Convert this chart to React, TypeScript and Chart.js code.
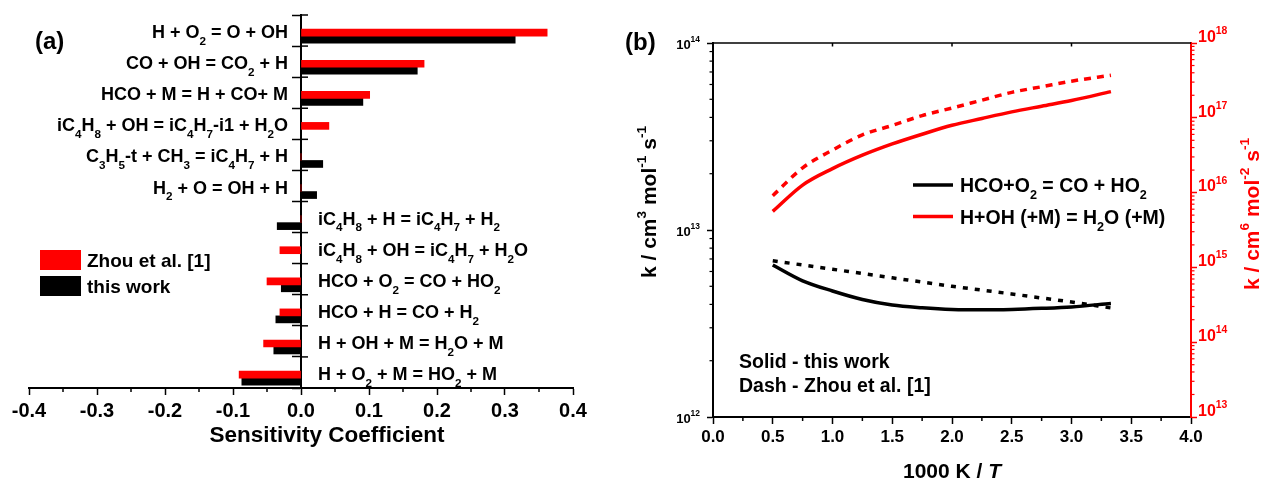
import React, { useEffect, useRef } from 'react';
import { Chart, registerables } from 'chart.js';

Chart.register(...registerables);

const FONT = '"Liberation Sans", Arial, Helvetica, sans-serif';
const RED = '#ff0000';
const BLACK = '#000000';

// ---------- Panel (a): sensitivity coefficients ----------
const categories = [
  'H + O_{2} = O + OH',
  'CO + OH = CO_{2} + H',
  'HCO + M = H + CO+ M',
  'iC_{4}H_{8} + OH = iC_{4}H_{7}-i1 + H_{2}O',
  'C_{3}H_{5}-t + CH_{3} = iC_{4}H_{7} + H',
  'H_{2} + O = OH + H',
  'iC_{4}H_{8} + H = iC_{4}H_{7} + H_{2}',
  'iC_{4}H_{8} + OH = iC_{4}H_{7} + H_{2}O',
  'HCO + O_{2} = CO + HO_{2}',
  'HCO + H = CO + H_{2}',
  'H + OH + M = H_{2}O + M',
  'H + O_{2} + M = HO_{2} + M',
];
const zhouValues = [0.362, 0.181, 0.101, 0.041, 0, 0, 0, -0.031, -0.05, -0.031, -0.055, -0.091];
const thisWorkValues = [0.315, 0.171, 0.091, 0, 0.032, 0.023, -0.035, 0, -0.029, -0.037, -0.04, -0.087];
const seriesNamesA = ['Zhou et al. [1]', 'this work'];
const xTitleA = 'Sensitivity Coefficient';

// ---------- Panel (b): rate constants ----------
const invT = [0.5, 0.75, 1.0, 1.25, 1.5, 1.75, 2.0, 2.25, 2.5, 2.75, 3.0, 3.33];
const hcoThisWork = [6.5e12, 5.35e12, 4.72e12, 4.25e12, 3.97e12, 3.84e12, 3.76e12, 3.74e12, 3.76e12, 3.81e12, 3.88e12, 4.05e12];
const hcoZhou = [6.85e12, 6.5e12, 6.17e12, 5.85e12, 5.55e12, 5.27e12, 5.0e12, 4.77e12, 4.55e12, 4.33e12, 4.12e12, 3.83e12];
const hohThisWork = [5.6e15, 1.26e16, 2.09e16, 3.16e16, 4.47e16, 6.03e16, 7.94e16, 9.8e16, 1.2e17, 1.43e17, 1.7e17, 2.24e17];
const hohZhou = [9.1e15, 2.14e16, 3.7e16, 5.9e16, 7.9e16, 1.07e17, 1.35e17, 1.72e17, 2.19e17, 2.6e17, 3.09e17, 3.7e17];
const legendB = ['HCO+O_{2} = CO + HO_{2}', 'H+OH (+M) = H_{2}O (+M)'];
const notesB = ['Solid - this work', 'Dash - Zhou et al. [1]'];
const xTitleB = '1000 K / ~{T}';
const yTitleLeft = 'k / cm^{3} mol^{-1} s^{-1}';
const yTitleRight = 'k / cm^{6} mol^{-2} s^{-1}';

// ---------- rich text helpers ----------
type Seg = { t: string; k: 'n' | 'sub' | 'sup' | 'it' };
function parseRich(s: string): Seg[] {
  const segs: Seg[] = [];
  let buf = '';
  let i = 0;
  while (i < s.length) {
    const c = s[i];
    if ((c === '_' || c === '^' || c === '~') && s[i + 1] === '{') {
      if (buf) { segs.push({ t: buf, k: 'n' }); buf = ''; }
      const end = s.indexOf('}', i + 2);
      segs.push({ t: s.slice(i + 2, end), k: c === '_' ? 'sub' : c === '^' ? 'sup' : 'it' });
      i = end + 1;
    } else { buf += c; i++; }
  }
  if (buf) segs.push({ t: buf, k: 'n' });
  return segs;
}
function drawRich(ctx: CanvasRenderingContext2D, s: string, x: number, baseline: number, size: number, color: string, align: 'left' | 'right' | 'center') {
  const segs = parseRich(s);
  const fontFor = (k: string) => (k === 'sub' || k === 'sup') ? `bold ${size * 0.65}px ${FONT}` : k === 'it' ? `italic bold ${size}px ${FONT}` : `bold ${size}px ${FONT}`;
  let total = 0;
  const widths = segs.map(sg => { ctx.font = fontFor(sg.k); const w = ctx.measureText(sg.t).width; total += w; return w; });
  let cx = align === 'right' ? x - total : align === 'center' ? x - total / 2 : x;
  ctx.fillStyle = color;
  ctx.textAlign = 'left';
  ctx.textBaseline = 'alphabetic';
  segs.forEach((sg, i) => {
    ctx.font = fontFor(sg.k);
    const dy = sg.k === 'sub' ? size * 0.38 : sg.k === 'sup' ? -size * 0.48 : 0;
    ctx.fillText(sg.t, cx, baseline + dy);
    cx += widths[i];
  });
}
function drawRichRot(ctx: CanvasRenderingContext2D, s: string, bx: number, cy: number, size: number, color: string) {
  ctx.save();
  ctx.translate(bx, cy);
  ctx.rotate(-Math.PI / 2);
  drawRich(ctx, s, 0, 0, size, color, 'center');
  ctx.restore();
}
function seg(ctx: CanvasRenderingContext2D, x1: number, y1: number, x2: number, y2: number) {
  ctx.beginPath(); ctx.moveTo(x1, y1); ctx.lineTo(x2, y2); ctx.stroke();
}
const fmt1 = (v: any) => (Math.abs(Number(v)) < 1e-9 ? '0.0' : Number(v).toFixed(1));

export default function App() {
  const refA = useRef<HTMLCanvasElement>(null);
  const refB = useRef<HTMLCanvasElement>(null);

  useEffect(() => {
    Chart.defaults.font.family = FONT;
    const nCat = categories.length;
    const catShift = 0.68;

    const pluginA = {
      id: 'extrasA',
      afterDraw(chart: any) {
        const ctx: CanvasRenderingContext2D = chart.ctx;
        const xs = chart.scales.x, ys = chart.scales.y, ca = chart.chartArea;
        const x0 = xs.getPixelForValue(0);
        ctx.save();
        ctx.strokeStyle = BLACK; ctx.lineWidth = 1.5;
        ys.ticks.forEach((t: any) => { const py = ys.getPixelForValue(t.value); seg(ctx, x0, py, x0 + 7, py); });
        for (let k = 0; k < 8; k++) { const px = xs.getPixelForValue(-0.35 + 0.1 * k); seg(ctx, px, ca.bottom, px, ca.bottom + 4); }
        categories.forEach((lab, i) => {
          const cy = ys.getPixelForValue(i) - 4.5;
          const positive = zhouValues[i] + thisWorkValues[i] > 0;
          drawRich(ctx, lab, positive ? x0 - 13 : x0 + 17, cy + 0.36 * 18, 18, BLACK, positive ? 'right' : 'left');
        });
        drawRich(ctx, xTitleA, (ca.left + ca.right) / 2 + 26, 442, 22.5, BLACK, 'center');
        // legend
        const colors = [RED, BLACK];
        seriesNamesA.forEach((name, i) => {
          const top = 250 + i * 26;
          ctx.fillStyle = colors[i];
          ctx.fillRect(40, top, 41, 20);
          drawRich(ctx, name, 87, top + 10 + 0.36 * 19, 19, BLACK, 'left');
        });
        drawRich(ctx, '(a)', 35, 49, 24, BLACK, 'left');
        ctx.restore();
      },
    };

    const chartA = new Chart(refA.current!, {
      type: 'bar',
      data: {
        datasets: [
          { label: seriesNamesA[0], data: zhouValues.map((v, i) => ({ x: v, y: i })), backgroundColor: RED, barThickness: 7 } as any,
          { label: seriesNamesA[1], data: thisWorkValues.map((v, i) => ({ x: v, y: i })), backgroundColor: BLACK, barThickness: 7 } as any,
        ],
      },
      options: {
        indexAxis: 'y',
        responsive: false,
        animation: false,
        layout: { padding: { left: 29, right: 47, top: 15, bottom: 0 } },
        plugins: { legend: { display: false }, tooltip: { enabled: false } },
        scales: {
          x: {
            type: 'linear', min: -0.4, max: 0.4,
            ticks: { stepSize: 0.1, callback: fmt1, color: BLACK, font: { size: 20, weight: 'bold' }, padding: 4, maxRotation: 0, autoSkip: false },
            grid: { drawOnChartArea: false, drawTicks: true, tickLength: 7, tickWidth: 1.5, tickColor: BLACK },
            border: { display: true, width: 2, color: BLACK },
            afterFit: (s: any) => { s.height = 91; },
          },
          y: {
            type: 'linear', position: { x: 0 } as any, reverse: true, offset: false,
            min: -catShift, max: nCat - catShift,
            afterBuildTicks: (s: any) => { s.ticks = Array.from({ length: nCat + 1 }, (_, k) => ({ value: k - catShift })); },
            ticks: { display: false },
            grid: { offset: false, drawOnChartArea: false, drawTicks: true, tickLength: 8, tickWidth: 1.5, tickColor: BLACK },
            border: { display: true, width: 2, color: BLACK },
            afterFit: (s: any) => { s.width = 0; },
          },
        },
      } as any,
      plugins: [pluginA],
    });

    const decades = (lo: number, hi: number) => {
      const a: number[] = [];
      for (let e = Math.round(Math.log10(lo)); e <= Math.round(Math.log10(hi)); e++) a.push(Math.pow(10, e));
      return a;
    };
    const minorLog = (ctx: CanvasRenderingContext2D, scale: any, x: number, dir: number, color: string) => {
      ctx.strokeStyle = color; ctx.lineWidth = 1.2;
      const lo = Math.round(Math.log10(scale.min)), hi = Math.round(Math.log10(scale.max));
      for (let e = lo; e < hi; e++) for (let m = 2; m <= 9; m++) {
        const py = scale.getPixelForValue(m * Math.pow(10, e));
        seg(ctx, x, py, x + dir * 3.5, py);
      }
    };

    const pluginB = {
      id: 'extrasB',
      afterDraw(chart: any) {
        const ctx: CanvasRenderingContext2D = chart.ctx;
        const xs = chart.scales.x, yl = chart.scales.y, yr = chart.scales.y1, ca = chart.chartArea;
        ctx.save();
        ctx.strokeStyle = BLACK; ctx.lineWidth = 1.5;
        seg(ctx, ca.left, ca.top, ca.right, ca.top);
        [1, 2, 3].forEach(v => { const px = xs.getPixelForValue(v); seg(ctx, px, ca.top, px, ca.top + 3.5); });
        for (let k = 0; k < 8; k++) { const px = xs.getPixelForValue(0.25 + 0.5 * k); seg(ctx, px, ca.bottom, px, ca.bottom + 4); }
        minorLog(ctx, yl, ca.left, -1, BLACK);
        minorLog(ctx, yr, ca.right, 1, RED);
        decades(yl.min, yl.max).forEach(v => {
          const py = yl.getPixelForValue(v);
          drawRich(ctx, `10^{${Math.round(Math.log10(v))}}`, ca.left - 13, py + 1 + 0.36 * 13, 13, BLACK, 'right');
        });
        decades(yr.min, yr.max).forEach(v => {
          const py = yr.getPixelForValue(v);
          drawRich(ctx, `10^{${Math.round(Math.log10(v))}}`, ca.right + 7, py - 7 + 0.36 * 16, 16, RED, 'left');
        });
        drawRichRot(ctx, yTitleLeft, 36, 202, 21, BLACK);
        drawRichRot(ctx, yTitleRight, 639, 214, 21, RED);
        drawRich(ctx, xTitleB, (ca.left + ca.right) / 2, 478, 21, BLACK, 'center');
        // legend
        const lcol = [BLACK, RED];
        legendB.forEach((t, i) => {
          const cy = 185 + i * 31.5;
          ctx.strokeStyle = lcol[i]; ctx.lineWidth = 3.5;
          seg(ctx, 293, cy, 333, cy);
          drawRich(ctx, t, 340, cy + 0.36 * 19.5, 19.5, BLACK, 'left');
        });
        notesB.forEach((t, i) => drawRich(ctx, t, 119, 368 + i * 24, 19.5, BLACK, 'left'));
        drawRich(ctx, '(b)', 5, 50, 24, BLACK, 'left');
        ctx.restore();
      },
    };

    const mk = (arr: number[]) => invT.map((x, i) => ({ x, y: arr[i] }));
    const lineBase = { pointRadius: 0, borderWidth: 3.5, cubicInterpolationMode: 'monotone', fill: false };

    const chartB = new Chart(refB.current!, {
      type: 'line',
      data: {
        datasets: [
          { ...lineBase, label: 'HCO this work', data: mk(hcoThisWork), borderColor: BLACK, yAxisID: 'y' } as any,
          { ...lineBase, label: 'HCO Zhou', data: mk(hcoZhou), borderColor: BLACK, borderDash: [5, 7], yAxisID: 'y' } as any,
          { ...lineBase, label: 'H+OH this work', data: mk(hohThisWork), borderColor: RED, yAxisID: 'y1' } as any,
          { ...lineBase, label: 'H+OH Zhou', data: mk(hohZhou), borderColor: RED, borderDash: [7, 6], yAxisID: 'y1' } as any,
        ],
      },
      options: {
        responsive: false,
        animation: false,
        layout: { padding: { left: 0, right: 0, top: 43, bottom: 0 } },
        plugins: { legend: { display: false }, tooltip: { enabled: false } },
        scales: {
          x: {
            type: 'linear', min: 0, max: 4,
            ticks: { stepSize: 0.5, callback: fmt1, color: BLACK, font: { size: 17, weight: 'bold' }, padding: 3, maxRotation: 0, autoSkip: false },
            grid: { drawOnChartArea: false, tickLength: 7, tickWidth: 1.5, tickColor: BLACK },
            border: { display: true, width: 2, color: BLACK },
            afterFit: (s: any) => { s.height = 62; },
          },
          y: {
            type: 'logarithmic', position: 'left', min: 1e12, max: 1e14,
            afterBuildTicks: (s: any) => { s.ticks = decades(1e12, 1e14).map(v => ({ value: v, major: true })); },
            ticks: { display: false },
            grid: { drawOnChartArea: false, tickLength: 6, tickWidth: 1.5, tickColor: BLACK },
            border: { display: true, width: 2, color: BLACK },
            afterFit: (s: any) => { s.width = 93; },
          },
          y1: {
            type: 'logarithmic', position: 'right', min: 1e13, max: 1e18,
            afterBuildTicks: (s: any) => { s.ticks = decades(1e13, 1e18).map(v => ({ value: v, major: true })); },
            ticks: { display: false },
            grid: { drawOnChartArea: false, tickLength: 6, tickWidth: 1.5, tickColor: RED },
            border: { display: true, width: 2, color: RED },
            afterFit: (s: any) => { s.width = 70; },
          },
        },
      } as any,
      plugins: [pluginB],
    });

    return () => { chartA.destroy(); chartB.destroy(); };
  }, []);

  return (
    <div style={{ position: 'absolute', left: 0, top: 0, width: 1261, height: 479, background: '#ffffff' }}>
      <canvas ref={refA} width={620} height={479} style={{ position: 'absolute', left: 0, top: 0 }} />
      <canvas ref={refB} width={641} height={479} style={{ position: 'absolute', left: 620, top: 0 }} />
    </div>
  );
}
